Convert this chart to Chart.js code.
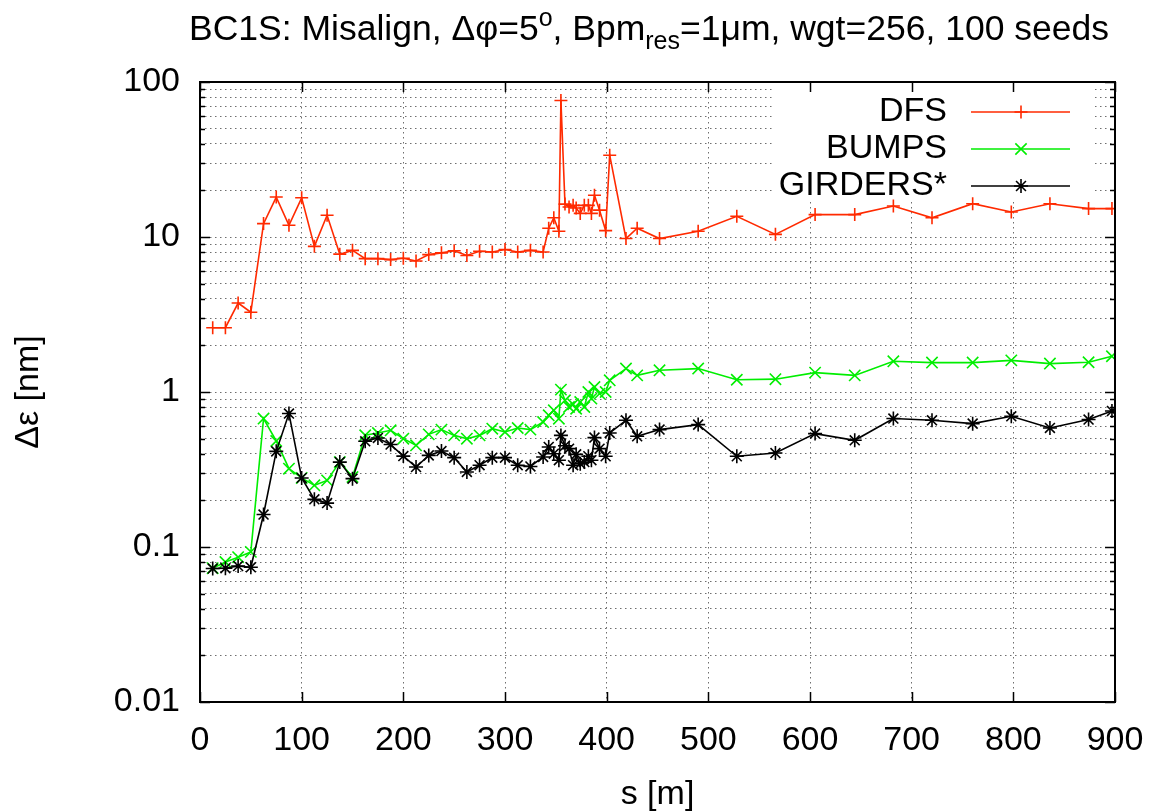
<!DOCTYPE html>
<html><head><meta charset="utf-8">
<script src="https://cdn.jsdelivr.net/npm/chart.js@4.4.0/dist/chart.umd.min.js"></script>
<style>
html,body{margin:0;padding:0;background:#fff;}
#wrap{position:relative;width:1155px;height:812px;overflow:hidden;}
#title{position:absolute;left:649px;top:8px;transform:translateX(-50%);white-space:nowrap;
  font-family:"Liberation Sans",Arial,Helvetica,sans-serif;font-size:35.5px;color:#000;line-height:40px;}
#title sup{font-size:25px;vertical-align:0;position:relative;top:-14px;}
#title sub{font-size:25px;vertical-align:0;position:relative;top:9px;}
</style></head><body>
<div id="wrap">
<canvas id="c" width="1155" height="812"></canvas>
<div id="title">BC1S: Misalign, Δφ=5<sup>o</sup>, Bpm<sub>res</sub>=1μm, wgt=256, 100 seeds</div>
</div>
<script>
// ---- data ----
const s = [12.5,25,37.5,50,62.5,75,87.5,100,112.5,125,137.5,150,162.5,175,187.5,200,212.5,225,237.5,250,262.5,275,287.5,300,312.5,325,337.5,
  343,348,353,355,359,363,367,370,374,378,382,385,388,393,399,403,
  419,430,452,490,528,566,605,644,682,720,760,798,836,874,897];
const dfs = [2.6,2.6,3.75,3.27,12.2,18.1,11.9,17.9,8.7,13.8,7.75,8.2,7.25,7.25,7.15,7.3,7.0,7.7,7.9,8.15,7.6,8.1,8.0,8.3,8.0,8.2,8.0,
  11.4,13.3,10.9,76,16.3,15.6,16.0,15.4,14.2,16.0,16.0,14.2,18.6,14.9,11.0,33.7,
  9.77,11.4,9.77,10.9,13.6,10.4,13.95,13.95,15.85,13.3,16.4,14.5,16.4,15.25,15.25];
const bumps = [0.073,0.08,0.086,0.093,0.674,0.483,0.32,0.279,0.25,0.269,0.353,0.283,0.526,0.544,0.566,0.5,0.453,0.533,0.572,0.525,0.5,0.525,0.58,0.552,0.586,0.572,0.64,
  0.707,0.762,0.673,1.036,0.884,0.8,0.833,0.78,0.862,0.8,1.0,0.906,1.077,0.976,1.0,1.19,
  1.416,1.28,1.38,1.416,1.2,1.21,1.334,1.28,1.578,1.548,1.548,1.6,1.525,1.555,1.70];
const girders = [0.0726,0.073,0.0754,0.074,0.162,0.414,0.726,0.279,0.203,0.192,0.353,0.276,0.481,0.505,0.458,0.386,0.328,0.39,0.416,0.377,0.305,0.337,0.377,0.377,0.337,0.331,0.381,
  0.442,0.4,0.363,0.525,0.45,0.431,0.337,0.396,0.345,0.353,0.385,0.363,0.508,0.431,0.385,0.544,
  0.657,0.518,0.572,0.616,0.385,0.404,0.539,0.488,0.674,0.657,0.625,0.697,0.586,0.664,0.754];
const seriesNames = ['DFS','BUMPS','GIRDERS*'];
const xTicks = [0,100,200,300,400,500,600,700,800,900];
const yDecades = [0.01,0.1,1,10,100];
const yTickLabels = ['0.01','0.1','1','10','100'];
const xTitle = 's [m]';
const yTitle = 'Δε [nm]';

// ---- styling ----
const FONT = '"Liberation Sans", Arial, Helvetica, sans-serif';
const colors = ['#ff2a00','#00ee00','#000000'];
const styles = ['cross','crossRot','star'];
const radii = [6.5,8,7];

// minor grid values for log axis (1..9 per decade)
const yGrid = [];
for (let i = 0; i < yDecades.length - 1; i++) for (let m = 1; m <= 9; m++) yGrid.push(+(m*yDecades[i]).toPrecision(3));
yGrid.push(yDecades[yDecades.length-1]);
const isDecade = v => yDecades.some(d => Math.abs(d - v) / d < 1e-6);

function mk(idx, arr, order){
  return {
    label: seriesNames[idx],
    data: s.map((x,i)=>({x:x, y:arr[i]})),
    borderColor: colors[idx], backgroundColor: colors[idx],
    borderWidth: 1.6, tension: 0, fill: false,
    pointStyle: styles[idx], pointRadius: radii[idx], pointHoverRadius: radii[idx],
    pointBorderColor: colors[idx], pointBorderWidth: 1.6,
    order: order
  };
}

const legendPlugin = {
  id: 'gpLegend',
  beforeDatasetsDraw(chart){
    const ctx = chart.ctx;
    ctx.save();
    ctx.fillStyle = '#fff';
    ctx.fillRect(772, 83, 320, 116);
    ctx.font = '34px ' + FONT;
    ctx.textAlign = 'right'; ctx.textBaseline = 'middle';
    const rows = [112, 149, 186];
    for (let i = 0; i < 3; i++){
      const y = rows[i];
      ctx.fillStyle = '#000';
      ctx.fillText(seriesNames[i], 947, y);
      ctx.strokeStyle = colors[i]; ctx.lineWidth = 1.6;
      ctx.beginPath(); ctx.moveTo(971, y); ctx.lineTo(1070, y); ctx.stroke();
      Chart.helpers.drawPoint(ctx, {pointStyle: styles[i], radius: radii[i], borderWidth: 1.6, rotation: 0}, 1021, y);
    }
    ctx.restore();
  }
};

const framePlugin = {
  id: 'gpFrame',
  afterDraw(chart){
    const {ctx, chartArea: a, scales: {x, y}} = chart;
    ctx.save();
    ctx.setLineDash([]);
    ctx.strokeStyle = '#000'; ctx.lineWidth = 1.5;
    const ln = (x1,y1,x2,y2)=>{ctx.beginPath();ctx.moveTo(x1,y1);ctx.lineTo(x2,y2);ctx.stroke();};
    yGrid.forEach(v=>{
      const py = Math.round(y.getPixelForValue(v)) + 0.5;
      const len = isDecade(v) ? 10 : 5;
      ln(a.left, py, a.left+len, py); ln(a.right, py, a.right-len, py);
    });
    xTicks.forEach(v=>{
      const px = Math.round(x.getPixelForValue(v)) + 0.5;
      ln(px, a.bottom, px, a.bottom-10); ln(px, a.top, px, a.top+10);
    });
    ctx.lineWidth = 2;
    ctx.strokeRect(a.left, a.top, a.right-a.left, a.bottom-a.top);
    ctx.restore();
  }
};

new Chart(document.getElementById('c'), {
  type: 'line',
  data: { datasets: [ mk(0, dfs, 2), mk(1, bumps, 1), mk(2, girders, 0) ] },
  options: {
    responsive: false, animation: false, devicePixelRatio: 1,
    layout: { padding: { left: 0, right: 40, top: 82, bottom: 0 } },
    plugins: { legend: { display: false }, title: { display: false }, tooltip: { enabled: false } },
    scales: {
      x: {
        type: 'linear', min: 0, max: 900,
        afterBuildTicks: sc => { sc.ticks = xTicks.map(v=>({value:v})); },
        afterFit: sc => { sc.height = 110; sc.paddingLeft = 0; sc.paddingRight = 0; },
        ticks: { font: { family: FONT, size: 34 }, color: '#000', padding: 18, maxRotation: 0, autoSkip: false,
                 callback: v => String(v) },
        grid: { display: true, color: '#6e6e6e', lineWidth: 1, drawTicks: false },
        border: { display: false, dash: [1.5,3.5] },
        title: { display: true, text: xTitle, font: { family: FONT, size: 34, lineHeight: 1 }, color: '#000', padding: { top: 0, bottom: 0 } }
      },
      y: {
        type: 'logarithmic', min: 0.01, max: 100,
        afterBuildTicks: sc => { sc.ticks = yGrid.map(v=>({value:v, major: isDecade(v)})); },
        afterFit: sc => { sc.width = 200; sc.paddingTop = 0; sc.paddingBottom = 0; },
        ticks: { font: { family: FONT, size: 34 }, color: '#000', padding: 20, autoSkip: false,
                 callback: v => { const i = yDecades.findIndex(d => Math.abs(d - v)/d < 1e-6); return i >= 0 ? yTickLabels[i] : ''; } },
        grid: { display: true, color: '#6e6e6e', lineWidth: 1, drawTicks: false },
        border: { display: false, dash: [1.5,3.5] },
        title: { display: true, text: yTitle, font: { family: FONT, size: 34, lineHeight: 1 }, color: '#000', padding: { top: 12, bottom: 0 } }
      }
    }
  },
  plugins: [legendPlugin, framePlugin]
});
</script>
</body></html>
